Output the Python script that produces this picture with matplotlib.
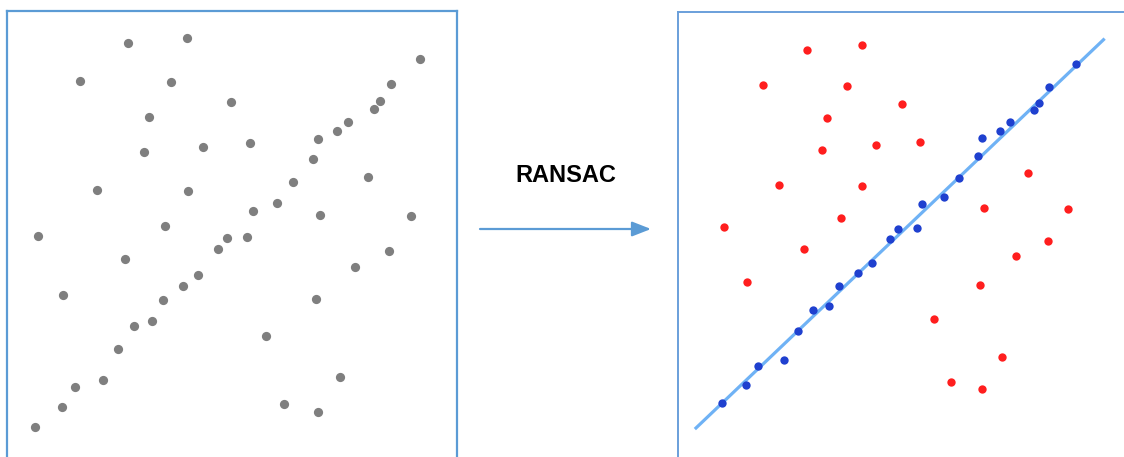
import matplotlib
matplotlib.use("Agg")
import matplotlib.pyplot as plt

# RANSAC result: inlier points (on the line) and outlier points
inlier_x = [35, 62, 75, 103, 118, 134, 152, 163, 183, 198, 218, 227, 247, 253,
            277, 293, 313, 318, 337, 348, 374, 380, 391, 420]
inlier_y = [33, 53, 73, 80, 111, 134, 139, 160, 174, 185, 211, 222, 223, 249,
            257, 278, 301, 321, 329, 338, 351, 359, 376, 401]

outlier_x = [128, 187, 80, 171, 231, 149, 203, 144, 97, 188, 165, 250, 368,
             320, 411, 38, 125, 63, 389, 355, 316, 266, 340, 284, 318]
outlier_y = [417, 422, 379, 378, 358, 343, 313, 308, 270, 269, 234, 317, 283,
             245, 244, 224, 201, 165, 209, 193, 161, 124, 83, 56, 48]

# fitted model line
line_x = [6, 451]
line_y = [5, 429]

label = "RANSAC"

W, H = 1124, 457
fig = plt.figure(figsize=(W / 100, H / 100), dpi=100)
fig.patch.set_facecolor("white")

def px_axes(left, top, right, bottom):
    return fig.add_axes([left / W, 1 - bottom / H, (right - left) / W, (bottom - top) / H])

spine_col = "#5B9BD5"

# left panel: all points in gray
axL = px_axes(7, 11, 457, 480)
axL.set_xlim(7, 457)
axL.set_ylim(-20, 449)
axL.scatter(inlier_x + outlier_x, inlier_y + outlier_y, s=44, color="#7F7F7F",
            linewidths=0, zorder=3)
for sp in axL.spines.values():
    sp.set_color(spine_col)
    sp.set_linewidth(1.6)
axL.set_xticks([])
axL.set_yticks([])

# right panel: scaled copy with classification
axR = px_axes(678, 12, 1140, 480)
axR.set_xlim(-12.3, 489.4)
axR.set_ylim(-50.3, 457.9)
axR.plot(line_x, line_y, color="#6FB2F5", lw=2.3, solid_capstyle="butt", zorder=2)
axR.scatter(outlier_x, outlier_y, s=36, color="#FF1E1E", linewidths=0, zorder=3)
axR.scatter(inlier_x, inlier_y, s=36, color="#1F40CF", linewidths=0, zorder=4)
for sp in axR.spines.values():
    sp.set_color("#6A9FDA")
    sp.set_linewidth(1.4)
axR.set_xticks([])
axR.set_yticks([])

# overlay for arrow and label
axO = fig.add_axes([0, 0, 1, 1], facecolor="none")
axO.set_xlim(0, W)
axO.set_ylim(H, 0)
axO.axis("off")
axO.annotate("", xy=(651, 229), xytext=(480, 229),
             arrowprops=dict(arrowstyle="-|>,head_length=1.15,head_width=0.45",
                             color=spine_col, lw=1.6, shrinkA=0, shrinkB=0))
axO.text(566, 175, label, ha="center", va="center", fontsize=17,
         fontweight="bold", family=["Liberation Sans", "DejaVu Sans"], color="black")

fig.savefig("out.png", dpi=100, facecolor="white")
